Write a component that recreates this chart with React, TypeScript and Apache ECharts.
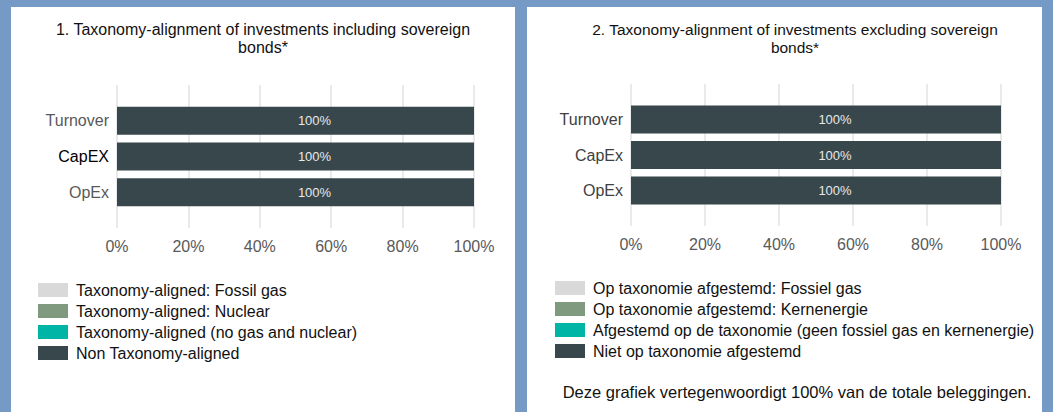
import React, { useEffect, useRef } from "react";
import * as echarts from "echarts";

const titleLeft = "1. Taxonomy-alignment of investments including sovereign\nbonds*";
const titleRight = "2. Taxonomy-alignment of investments excluding sovereign\nbonds*";
const footnote = "Deze grafiek vertegenwoordigt 100% van de totale beleggingen.";

const categoriesLeft = ["Turnover", "CapEX", "OpEx"];
const categoriesRight = ["Turnover", "CapEx", "OpEx"];

const seriesNamesLeft = [
  "Taxonomy-aligned: Fossil gas",
  "Taxonomy-aligned: Nuclear",
  "Taxonomy-aligned (no gas and nuclear)",
  "Non Taxonomy-aligned",
];
const seriesNamesRight = [
  "Op taxonomie afgestemd: Fossiel gas",
  "Op taxonomie afgestemd: Kernenergie",
  "Afgestemd op de taxonomie (geen fossiel gas en kernenergie)",
  "Niet op taxonomie afgestemd",
];

// values per category (Turnover, CapEx, OpEx)
const fossilGasLeft = [0, 0, 0];
const nuclearLeft = [0, 0, 0];
const alignedLeft = [0, 0, 0];
const nonAlignedLeft = [100, 100, 100];

const fossilGasRight = [0, 0, 0];
const nuclearRight = [0, 0, 0];
const alignedRight = [0, 0, 0];
const nonAlignedRight = [100, 100, 100];

const xTicks = [0, 20, 40, 60, 80, 100];

const colors = ["#d9d9d9", "#7f9a7e", "#00b5a6", "#38474b"];
const FONT = "'Liberation Sans', Arial, sans-serif";

export default function App() {
  const ref = useRef<HTMLDivElement>(null);
  useEffect(() => {
    if (!ref.current) return;
    const chart = echarts.init(ref.current, null, { renderer: "svg" });

    // pad categories with empty slots so the bars sit half a band from the gridline ends
    const padCats = (cats: string[], labelColors: string[]) => [
      { value: " " },
      ...cats.map((c, i) => ({ value: c, textStyle: { color: labelColors[i] } })),
      { value: "  " },
    ];
    const padVals = (v: number[]) => [null, ...v, null];

    const makeSeries = (
      names: string[],
      vals: number[][],
      axisIndex: number,
      stack: string
    ) =>
      names.map((n, i) => ({
        name: n,
        type: "bar",
        stack,
        xAxisIndex: axisIndex,
        yAxisIndex: axisIndex,
        barWidth: 28,
        data: padVals(vals[i]),
        itemStyle: { color: colors[i] },
        label: {
          show: i === 3,
          position: "inside",
          offset: [19, 0],
          formatter: (p: any) => (p.value ? p.value + "%" : ""),
          color: "#e8e8e8",
          fontSize: 13,
          fontFamily: FONT,
        },
      }));

    const xAxisBase = {
      type: "value",
      min: 0,
      max: 100,
      interval: 20,
      axisLine: { show: false },
      axisTick: { show: false },
      splitLine: { show: true, lineStyle: { color: "#e3e3e3", width: 1.5 } },
      axisLabel: {
        formatter: (v: number) => (xTicks.includes(v) ? v + "%" : ""),
        color: "#595959",
        fontSize: 16,
        fontFamily: FONT,
        margin: 10,
      },
    };

    const yAxisBase = {
      type: "category",
      inverse: true,
      boundaryGap: false,
      axisLine: { show: false },
      axisTick: { show: false },
      splitLine: { show: false },
      axisLabel: { fontSize: 16, fontFamily: FONT, margin: 8 },
    };

    const titleStyle = { fontSize: 16, fontWeight: "normal", color: "#111", fontFamily: FONT, lineHeight: 18 };
    const legendBase = {
      orient: "vertical",
      itemWidth: 30,
      itemHeight: 14,
      itemGap: 5,
      icon: "rect",
      selectedMode: false,
      textStyle: { fontSize: 16, color: "#111", fontFamily: FONT, padding: [0, 0, 0, 3] },
    };

    chart.setOption({
      animation: false,
      backgroundColor: "#759ac6",
      graphic: [
        { type: "rect", shape: { x: 11, y: 7, width: 504, height: 410 }, style: { fill: "#ffffff" }, z: -10 },
        { type: "rect", shape: { x: 527, y: 7, width: 515, height: 410 }, style: { fill: "#ffffff" }, z: -10 },
      ],
      title: [
        { text: titleLeft, left: 258, top: 15, textAlign: "center", textStyle: titleStyle },
        { text: titleRight, left: 790, top: 15, textAlign: "center", textStyle: { ...titleStyle, fontSize: 15.5 } },
        {
          text: footnote,
          left: 792,
          top: 378,
          textAlign: "center",
          textStyle: { ...titleStyle, fontSize: 16.5, lineHeight: undefined },
        },
      ],
      legend: [
        { ...legendBase, data: seriesNamesLeft, left: 33, top: 277 },
        { ...legendBase, data: seriesNamesRight, left: 550, top: 275 },
      ],
      grid: [
        { left: 117, width: 357, top: 85, height: 143 },
        { left: 631, width: 370, top: 84, height: 142 },
      ],
      xAxis: [
        { ...xAxisBase, gridIndex: 0 },
        { ...xAxisBase, gridIndex: 1 },
      ],
      yAxis: [
        { ...yAxisBase, gridIndex: 0, data: padCats(categoriesLeft, ["#595959", "#000000", "#595959"]) },
        { ...yAxisBase, gridIndex: 1, data: padCats(categoriesRight, ["#404040", "#404040", "#404040"]) },
      ],
      series: [
        ...makeSeries(seriesNamesLeft, [fossilGasLeft, nuclearLeft, alignedLeft, nonAlignedLeft], 0, "left"),
        ...makeSeries(seriesNamesRight, [fossilGasRight, nuclearRight, alignedRight, nonAlignedRight], 1, "right"),
      ],
    });
    return () => chart.dispose();
  }, []);

  return <div ref={ref} style={{ position: "fixed", left: 0, top: 0, width: 1053, height: 412 }} />;
}
